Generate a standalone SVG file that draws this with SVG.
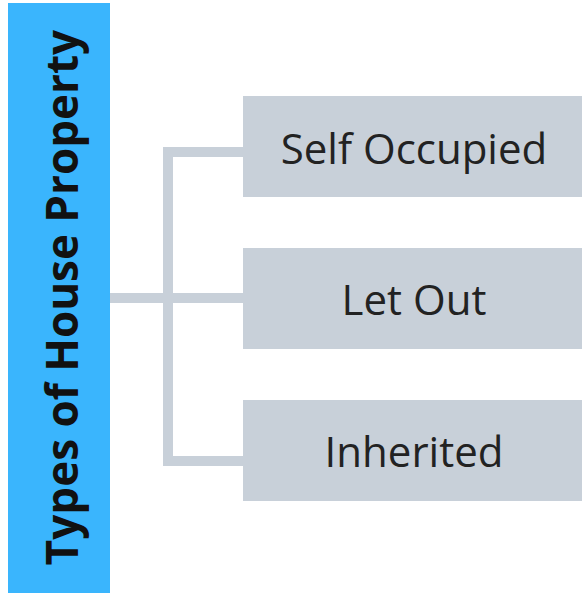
<svg xmlns="http://www.w3.org/2000/svg" width="582" height="598" viewBox="0 0 582 598">
<style>
.box{fill:#C8D0D9}
.lbl{font-family:"Open Sans","Liberation Sans",sans-serif;font-size:42px;fill:#222222;text-anchor:middle}
.title{font-family:"Open Sans","Liberation Sans",sans-serif;font-size:44px;font-weight:bold;fill:#111;text-anchor:middle}
.conn{stroke:#C8D0D9;stroke-width:10;fill:none}
</style>
<rect width="582" height="598" fill="#FFFFFF"/>
<g id="connectors">
<path class="conn" d="M110 298 H243"/>
<path class="conn" d="M243 152 H168 V461 H243"/>
</g>
<g id="root">
<rect x="8" y="3" width="102" height="590" fill="#3AB5FD"/>
<text class="title" transform="translate(78 297.5) rotate(-90)">Types of House Property</text>
</g>
<g id="self-occupied">
<rect class="box" x="243" y="96" width="339" height="101"/>
<text class="lbl" x="414" y="164">Self Occupied</text>
</g>
<g id="let-out">
<rect class="box" x="243" y="248" width="339" height="101"/>
<text class="lbl" x="414" y="315">Let Out</text>
</g>
<g id="inherited">
<rect class="box" x="243" y="400" width="339" height="101"/>
<text class="lbl" x="414" y="467">Inherited</text>
</g>
</svg>
